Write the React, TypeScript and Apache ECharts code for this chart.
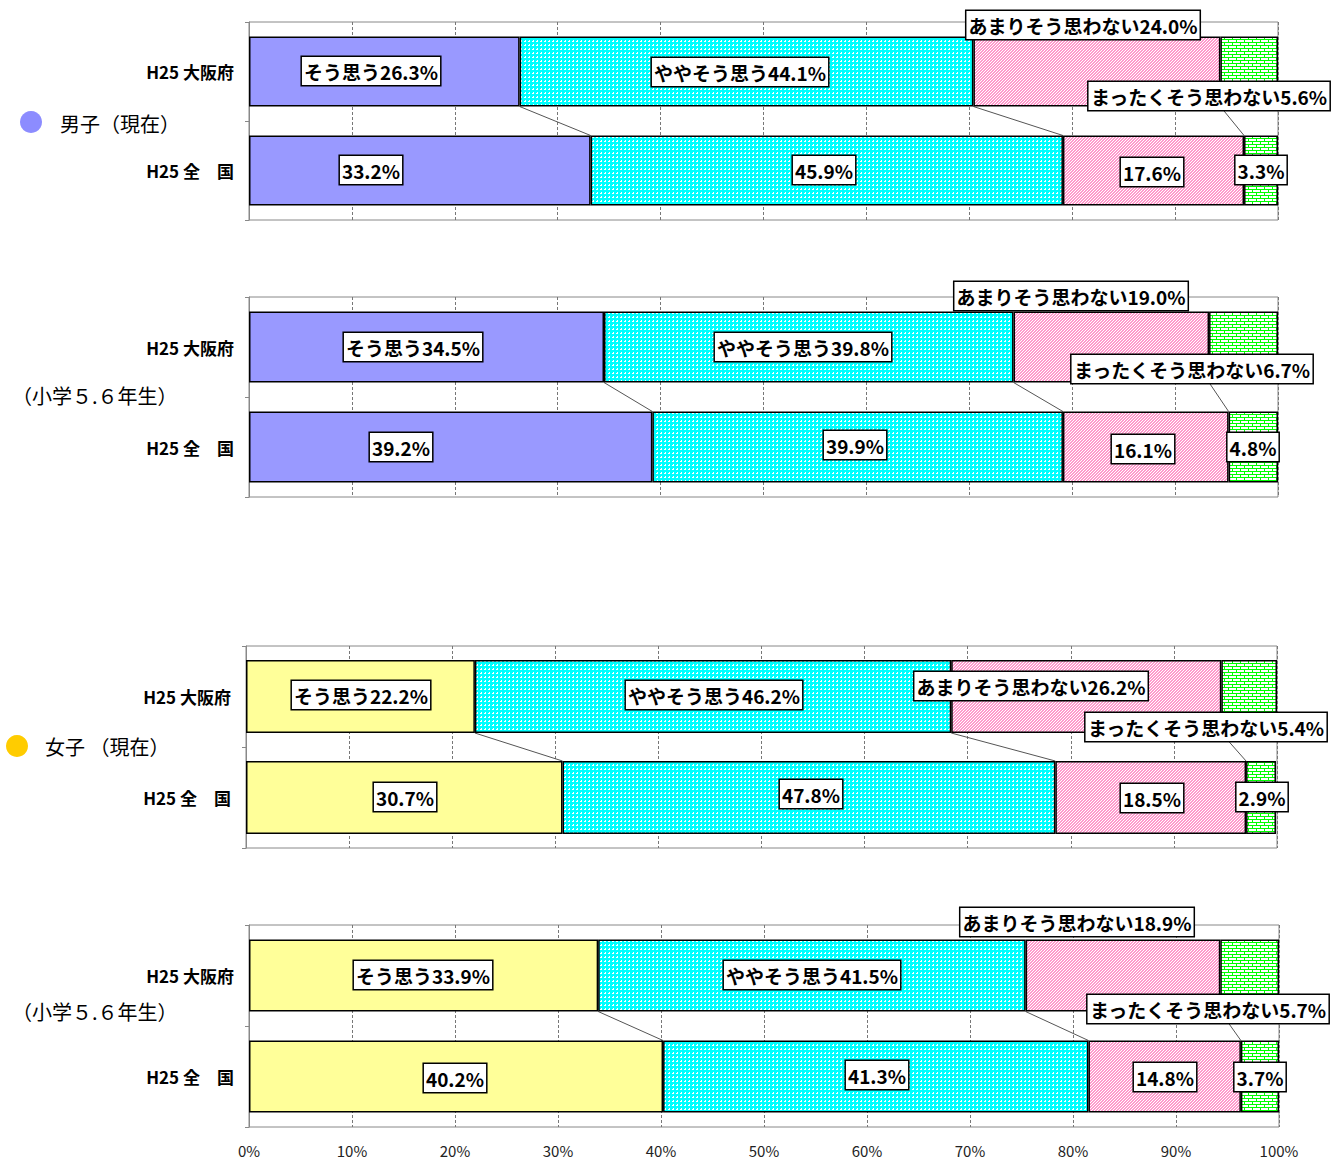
import React, { useEffect, useRef } from 'react';
import * as echarts from 'echarts';

const categories = ['H25 大阪府', 'H25 全　国'];
const seriesNames = ['そう思う', 'ややそう思う', 'あまりそう思わない', 'まったくそう思わない'];

const boysNowOsaka = [26.3, 44.1, 24.0, 5.6];
const boysNowNation = [33.2, 45.9, 17.6, 3.3];
const boysElemOsaka = [34.5, 39.8, 19.0, 6.7];
const boysElemNation = [39.2, 39.9, 16.1, 4.8];
const girlsNowOsaka = [22.2, 46.2, 26.2, 5.4];
const girlsNowNation = [30.7, 47.8, 18.5, 2.9];
const girlsElemOsaka = [33.9, 41.5, 18.9, 5.7];
const girlsElemNation = [40.2, 41.3, 14.8, 3.7];

const FONT = '"Noto Sans CJK JP", "Noto Sans", sans-serif';

// layout (pixels) of each panel and its label centres
const panels = [
  {
    osaka: boysNowOsaka, nation: boysNowNation, first: '#9999FF',
    left: 249, top: 22, width: 1029, height: 198, barW: 70,
    labelsOsaka: [[371, 71], [740, 72], [1083, 25], [1209, 96]],
    labelsNation: [[371, 170], [824, 170], [1152, 172], [1261, 170]],
  },
  {
    osaka: boysElemOsaka, nation: boysElemNation, first: '#9999FF',
    left: 249, top: 297, width: 1029, height: 200, barW: 71,
    labelsOsaka: [[413, 347], [803, 347], [1071, 296], [1192, 369]],
    labelsNation: [[401, 447], [855, 445], [1143, 449], [1253, 447]],
  },
  {
    osaka: girlsNowOsaka, nation: girlsNowNation, first: '#FFFF99',
    left: 246, top: 646, width: 1031, height: 202, barW: 73,
    labelsOsaka: [[361, 695], [714, 695], [1031, 686], [1206, 727]],
    labelsNation: [[405, 797], [811, 794], [1152, 798], [1262, 797]],
  },
  {
    osaka: girlsElemOsaka, nation: girlsElemNation, first: '#FFFF99',
    left: 249, top: 925, width: 1030, height: 202, barW: 72,
    labelsOsaka: [[423, 975], [812, 975], [1077, 922], [1208, 1009]],
    labelsNation: [[455, 1078], [877, 1075], [1165, 1077], [1260, 1077]],
  },
];

function makePattern(w: number, h: number, draw: (ctx: CanvasRenderingContext2D) => void) {
  const c = document.createElement('canvas');
  c.width = w;
  c.height = h;
  const ctx = c.getContext('2d')!;
  draw(ctx);
  return { image: c, repeat: 'repeat' } as any;
}

export default function App() {
  const ref = useRef<HTMLDivElement>(null);
  useEffect(() => {
    document.body.style.margin = '0';
    if (!ref.current) return;
    const chart = echarts.init(ref.current, null, { renderer: 'svg' });

    const cyan = makePattern(4, 4, (ctx) => {
      ctx.fillStyle = '#00FFFF';
      ctx.fillRect(0, 0, 4, 4);
      ctx.fillStyle = '#FFFFFF';
      ctx.fillRect(0, 0, 2, 2);
      ctx.fillStyle = '#00FFFF';
      ctx.fillRect(0, 0, 1, 1);
    });
    const pink = makePattern(3, 3, (ctx) => {
      ctx.fillStyle = '#FF99CC';
      ctx.fillRect(0, 0, 3, 3);
      ctx.fillStyle = '#FFFFFF';
      for (let i = 0; i < 3; i++) ctx.fillRect(i, 2 - i, 1, 1);
    });
    const green = makePattern(8, 6, (ctx) => {
      ctx.fillStyle = '#FFFFFF';
      ctx.fillRect(0, 0, 8, 6);
      ctx.fillStyle = '#00FF00';
      ctx.fillRect(0, 0, 8, 1);
      ctx.fillRect(0, 3, 8, 1);
      ctx.fillRect(0, 1, 1, 2);
      ctx.fillRect(4, 4, 1, 2);
    });

    const grids: any[] = [];
    const xAxes: any[] = [];
    const yAxes: any[] = [];
    const series: any[] = [];

    panels.forEach((p, pi) => {
      const last = pi === panels.length - 1;
      grids.push({
        left: p.left, top: p.top, width: p.width, height: p.height,
        show: true, borderColor: '#888', borderWidth: 1,
      });
      xAxes.push({
        gridIndex: pi, type: 'value', min: 0, max: 100, interval: 10,
        axisLine: { show: false },
        axisTick: { show: false },
        splitLine: { show: true, lineStyle: { color: '#777', width: 1, type: [3, 2] } },
        axisLabel: {
          show: last, formatter: '{value}%', fontSize: 15, color: '#222',
          margin: 16, fontFamily: FONT,
        },
      });
      yAxes.push({
        gridIndex: pi, type: 'category', inverse: true, data: categories,
        axisLine: { show: true, lineStyle: { color: '#888' } },
        axisTick: { show: true, length: 4, lineStyle: { color: '#888' } },
        axisLabel: { fontSize: 17, color: '#000', margin: 15, fontFamily: FONT, fontWeight: 'bold' },
      });

      const fills = [p.first, cyan, pink, green];
      const rowY = [p.top + p.height / 4, p.top + (3 * p.height) / 4];
      let cumO = 0;
      let cumN = 0;
      const lineData: number[][] = [];
      seriesNames.forEach((name, k) => {
        const vo = p.osaka[k];
        const vn = p.nation[k];
        const cO = p.left + ((cumO + vo / 2) / 100) * p.width;
        const cN = p.left + ((cumN + vn / 2) / 100) * p.width;
        const tO = p.labelsOsaka[k];
        const tN = p.labelsNation[k];
        series.push({
          type: 'bar', name, stack: 'p' + pi, xAxisIndex: pi, yAxisIndex: pi,
          barWidth: p.barW, z: 2,
          itemStyle: { color: fills[k], borderColor: '#000', borderWidth: 1.5 },
          label: {
            show: true, position: 'inside', fontSize: 19, fontWeight: 'bold',
            fontFamily: FONT, color: '#000', backgroundColor: '#fff',
            borderColor: '#000', borderWidth: 1.5, padding: [5, 2, 4, 2],
            formatter: (prm: any) =>
              (prm.dataIndex === 0 ? name : '') + Number(prm.value).toFixed(1) + '%',
          },
          data: [
            { value: vo, label: { offset: [tO[0] - cO, tO[1] - rowY[0]] } },
            { value: vn, label: { offset: [tN[0] - cN, tN[1] - rowY[1]] } },
          ],
        });
        cumO += vo;
        cumN += vn;
        if (k < 3) lineData.push([cumO, cumN, 0]);
      });
      const bw = p.barW;
      series.push({
        type: 'custom', xAxisIndex: pi, yAxisIndex: pi, z: 1,
        encode: { x: 0, y: 2 },
        data: lineData,
        renderItem: (_params: any, api: any) => {
          const a = api.value(0);
          const b = api.value(1);
          const p1 = api.coord([a, 0]);
          const p2 = api.coord([b, 1]);
          return {
            type: 'line',
            shape: { x1: p1[0], y1: p1[1] + bw / 2, x2: p2[0], y2: p2[1] - bw / 2 },
            style: { stroke: '#555', lineWidth: 1 },
          };
        },
      });
    });

    chart.setOption({
      animation: false,
      backgroundColor: '#fff',
      grid: grids,
      xAxis: xAxes,
      yAxis: yAxes,
      series,
      graphic: [
        { type: 'circle', shape: { cx: 31, cy: 122, r: 11 }, style: { fill: '#8C8CFF' } },
        { type: 'text', x: 60, y: 123, style: { text: '男子（現在）', fontSize: 20, fontFamily: FONT, fill: '#000', verticalAlign: 'middle' } },
        { type: 'text', x: 12, y: 395, style: { text: '（小学５.６年生）', fontSize: 20, fontFamily: FONT, fill: '#000', verticalAlign: 'middle' } },
        { type: 'circle', shape: { cx: 17, cy: 746, r: 11 }, style: { fill: '#FFCC00' } },
        { type: 'text', x: 45, y: 746, style: { text: '女子 （現在）', fontSize: 20, fontFamily: FONT, fill: '#000', verticalAlign: 'middle' } },
        { type: 'text', x: 12, y: 1011, style: { text: '（小学５.６年生）', fontSize: 20, fontFamily: FONT, fill: '#000', verticalAlign: 'middle' } },
      ],
    });
    return () => chart.dispose();
  }, []);
  return <div ref={ref} style={{ width: 1333, height: 1160 }} />;
}
